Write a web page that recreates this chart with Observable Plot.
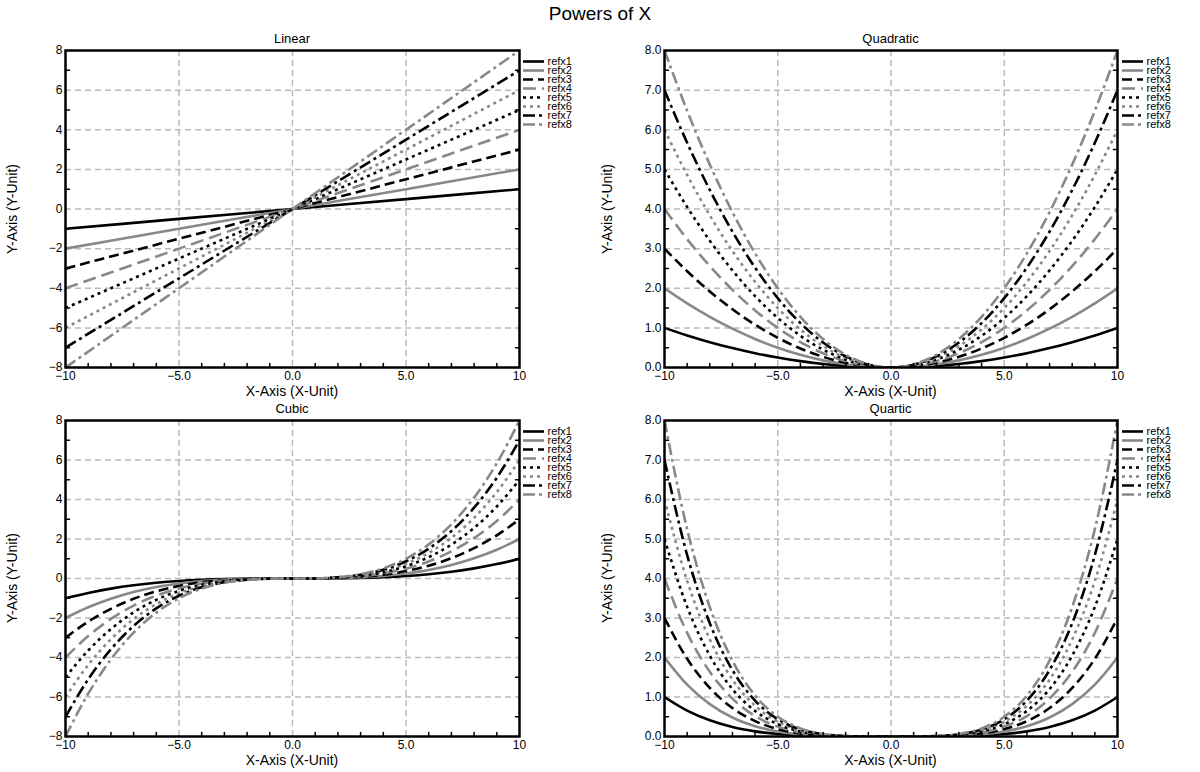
<!DOCTYPE html>
<html><head><meta charset="utf-8">
<script src="https://cdn.jsdelivr.net/npm/d3@7"></script>
<script src="https://cdn.jsdelivr.net/npm/@observablehq/plot@0.6"></script>
<style>
body{margin:0;background:#fff;font-family:"Liberation Sans",Arial,sans-serif;color:#000;}
#root{position:relative;width:1200px;height:772px;overflow:hidden;background:#fff;}
.abs{position:absolute;}
.title{position:absolute;left:0;width:1200px;text-align:center;top:3px;font-size:19px;line-height:22px;}
.lab{position:absolute;white-space:nowrap;line-height:15px;transform:translate(-50%,-50%);}
.ptitle{font-size:13px;}
.xlab{font-size:14px;}
.ylab{font-size:14px;transform:translate(-50%,-50%) rotate(-90deg);}
</style></head><body><div id="root"></div>
<script>
// ---- data ----
const seriesNames = ["refx1","refx2","refx3","refx4","refx5","refx6","refx7","refx8"];

const xLinear = [-10,-5,0,5,10];
const linear = [
  [-1,-0.5,0,0.5,1],
  [-2,-1,0,1,2],
  [-3,-1.5,0,1.5,3],
  [-4,-2,0,2,4],
  [-5,-2.5,0,2.5,5],
  [-6,-3,0,3,6],
  [-7,-3.5,0,3.5,7],
  [-8,-4,0,4,8]
];

const xPow = [-10,-9,-8,-7,-6,-5,-4,-3,-2,-1,0,1,2,3,4,5,6,7,8,9,10];
const quadratic = [
  [1,0.81,0.64,0.49,0.36,0.25,0.16,0.09,0.04,0.01,0,0.01,0.04,0.09,0.16,0.25,0.36,0.49,0.64,0.81,1],
  [2,1.62,1.28,0.98,0.72,0.5,0.32,0.18,0.08,0.02,0,0.02,0.08,0.18,0.32,0.5,0.72,0.98,1.28,1.62,2],
  [3,2.43,1.92,1.47,1.08,0.75,0.48,0.27,0.12,0.03,0,0.03,0.12,0.27,0.48,0.75,1.08,1.47,1.92,2.43,3],
  [4,3.24,2.56,1.96,1.44,1,0.64,0.36,0.16,0.04,0,0.04,0.16,0.36,0.64,1,1.44,1.96,2.56,3.24,4],
  [5,4.05,3.2,2.45,1.8,1.25,0.8,0.45,0.2,0.05,0,0.05,0.2,0.45,0.8,1.25,1.8,2.45,3.2,4.05,5],
  [6,4.86,3.84,2.94,2.16,1.5,0.96,0.54,0.24,0.06,0,0.06,0.24,0.54,0.96,1.5,2.16,2.94,3.84,4.86,6],
  [7,5.67,4.48,3.43,2.52,1.75,1.12,0.63,0.28,0.07,0,0.07,0.28,0.63,1.12,1.75,2.52,3.43,4.48,5.67,7],
  [8,6.48,5.12,3.92,2.88,2,1.28,0.72,0.32,0.08,0,0.08,0.32,0.72,1.28,2,2.88,3.92,5.12,6.48,8]
];
const cubic = [
  [-1,-0.729,-0.512,-0.343,-0.216,-0.125,-0.064,-0.027,-0.008,-0.001,0,0.001,0.008,0.027,0.064,0.125,0.216,0.343,0.512,0.729,1],
  [-2,-1.458,-1.024,-0.686,-0.432,-0.25,-0.128,-0.054,-0.016,-0.002,0,0.002,0.016,0.054,0.128,0.25,0.432,0.686,1.024,1.458,2],
  [-3,-2.187,-1.536,-1.029,-0.648,-0.375,-0.192,-0.081,-0.024,-0.003,0,0.003,0.024,0.081,0.192,0.375,0.648,1.029,1.536,2.187,3],
  [-4,-2.916,-2.048,-1.372,-0.864,-0.5,-0.256,-0.108,-0.032,-0.004,0,0.004,0.032,0.108,0.256,0.5,0.864,1.372,2.048,2.916,4],
  [-5,-3.645,-2.56,-1.715,-1.08,-0.625,-0.32,-0.135,-0.04,-0.005,0,0.005,0.04,0.135,0.32,0.625,1.08,1.715,2.56,3.645,5],
  [-6,-4.374,-3.072,-2.058,-1.296,-0.75,-0.384,-0.162,-0.048,-0.006,0,0.006,0.048,0.162,0.384,0.75,1.296,2.058,3.072,4.374,6],
  [-7,-5.103,-3.584,-2.401,-1.512,-0.875,-0.448,-0.189,-0.056,-0.007,0,0.007,0.056,0.189,0.448,0.875,1.512,2.401,3.584,5.103,7],
  [-8,-5.832,-4.096,-2.744,-1.728,-1,-0.512,-0.216,-0.064,-0.008,0,0.008,0.064,0.216,0.512,1,1.728,2.744,4.096,5.832,8]
];
const quartic = [
  [1,0.656,0.41,0.24,0.13,0.063,0.026,0.008,0.002,0,0,0,0.002,0.008,0.026,0.063,0.13,0.24,0.41,0.656,1],
  [2,1.312,0.819,0.48,0.259,0.125,0.051,0.016,0.003,0,0,0,0.003,0.016,0.051,0.125,0.259,0.48,0.819,1.312,2],
  [3,1.968,1.229,0.72,0.389,0.188,0.077,0.024,0.005,0,0,0,0.005,0.024,0.077,0.188,0.389,0.72,1.229,1.968,3],
  [4,2.624,1.638,0.96,0.518,0.25,0.102,0.032,0.006,0,0,0,0.006,0.032,0.102,0.25,0.518,0.96,1.638,2.624,4],
  [5,3.281,2.048,1.2,0.648,0.313,0.128,0.041,0.008,0.001,0,0.001,0.008,0.041,0.128,0.313,0.648,1.2,2.048,3.281,5],
  [6,3.937,2.458,1.441,0.778,0.375,0.154,0.049,0.01,0.001,0,0.001,0.01,0.049,0.154,0.375,0.778,1.441,2.458,3.937,6],
  [7,4.593,2.867,1.681,0.907,0.438,0.179,0.057,0.011,0.001,0,0.001,0.011,0.057,0.179,0.438,0.907,1.681,2.867,4.593,7],
  [8,5.249,3.277,1.921,1.037,0.5,0.205,0.065,0.013,0.001,0,0.001,0.013,0.065,0.205,0.5,1.037,1.921,3.277,5.249,8]
];

const xTicks = [-10,-5,0,5,10];
const xTickLabels = ["\u221210","\u22125.0","0.0","5.0","10"];
const xMinorTicks = [-9,-8,-7,-6,-4,-3,-2,-1,1,2,3,4,6,7,8,9];
const ySymTicks = [-8,-6,-4,-2,0,2,4,6,8];
const ySymLabels = ["\u22128","\u22126","\u22124","\u22122","0","2","4","6","8"];
const ySymMinor = [-7,-5,-3,-1,1,3,5,7];
const yPosTicks = [0,1,2,3,4,5,6,7,8];
const yPosLabels = ["0.0","1.0","2.0","3.0","4.0","5.0","6.0","7.0","8.0"];
const yPosMinor = [0.5,1.5,2.5,3.5,4.5,5.5,6.5,7.5];

const chartTitle = "Powers of X";
const xLabel = "X-Axis (X-Unit)";
const yLabel = "Y-Axis (Y-Unit)";

// ---- styles ----
const seriesStyles = [
  {stroke:"#000", dash:null},
  {stroke:"#888", dash:null},
  {stroke:"#000", dash:"10,5"},
  {stroke:"#888", dash:"13,6"},
  {stroke:"#000", dash:"3,4"},
  {stroke:"#888", dash:"3,4"},
  {stroke:"#000", dash:"12,4,3,4"},
  {stroke:"#888", dash:"12,4,3,4"}
];

const cols = [
  {left:0, width:600, ml:65, mr:81, legendLeft:521},
  {left:600, width:600, ml:64, mr:83, legendLeft:1120}
];
const rows = [
  {top:44, height:356, mt:6, mb:33, legendTop:48},
  {top:414, height:358, mt:6, mb:36, legendTop:418}
];

const panels = [
  {name:"Linear", xs:xLinear, data:linear, yt:ySymTicks, yl:ySymLabels, ym:ySymMinor, yd:[-8,8], c:0, r:0},
  {name:"Quadratic", xs:xPow, data:quadratic, yt:yPosTicks, yl:yPosLabels, ym:yPosMinor, yd:[0,8], c:1, r:0},
  {name:"Cubic", xs:xPow, data:cubic, yt:ySymTicks, yl:ySymLabels, ym:ySymMinor, yd:[-8,8], c:0, r:1},
  {name:"Quartic", xs:xPow, data:quartic, yt:yPosTicks, yl:yPosLabels, ym:yPosMinor, yd:[0,8], c:1, r:1}
];

const root = document.getElementById("root");
function addDiv(cls, text, x, y) {
  const d = document.createElement("div");
  d.className = cls; d.textContent = text;
  if (x != null) d.style.left = x + "px";
  if (y != null) d.style.top = y + "px";
  root.appendChild(d);
  return d;
}
addDiv("title", chartTitle);

const tickShape = {draw(ctx, l) { ctx.moveTo(0, 0); ctx.lineTo(0, -l); }};
const xFmt = new Map(xTicks.map((d, i) => [d, xTickLabels[i]]));
const font = '"Liberation Sans", Arial, sans-serif';

for (const p of panels) {
  const C = cols[p.c], R = rows[p.r];
  const yFmt = new Map(p.yt.map((d, i) => [d, p.yl[i]]));
  const xd = [xTicks[0], xTicks[xTicks.length - 1]];
  const xGrid = xTicks.filter(d => d > xd[0] && d < xd[1]);
  const yGrid = p.yt.filter(d => d > p.yd[0] && d < p.yd[1]);

  const lineMarks = p.data.map((vals, i) => Plot.line(
    p.xs.map((x, j) => ({x, y: vals[j]})),
    {x: "x", y: "y", curve: "monotone-x", stroke: seriesStyles[i].stroke,
     strokeWidth: 2.6, strokeDasharray: seriesStyles[i].dash, strokeLinecap: "butt",
     strokeLinejoin: "round", clip: true}
  ));

  const chart = Plot.plot({
    width: C.width, height: R.height,
    marginLeft: C.ml, marginRight: C.mr, marginTop: R.mt, marginBottom: R.mb,
    style: {fontFamily: font, fontSize: "12px", background: "transparent", color: "#000"},
    x: {domain: xd},
    y: {domain: p.yd},
    marks: [
      Plot.ruleX(xGrid, {x: d => d, stroke: "#bbb", strokeWidth: 1.5, strokeDasharray: "6,4"}),
      Plot.ruleY(yGrid, {y: d => d, stroke: "#bbb", strokeWidth: 1.5, strokeDasharray: "6,4"}),
      ...lineMarks,
      Plot.vector(xMinorTicks, {x: d => d, frameAnchor: "bottom", length: 4, rotate: 0, anchor: "start", shape: tickShape, stroke: "#000", strokeWidth: 1.5}),
      Plot.vector(p.ym, {y: d => d, frameAnchor: "left", length: 4, rotate: 90, anchor: "start", shape: tickShape, stroke: "#000", strokeWidth: 1.5}),
      Plot.vector(p.ym, {y: d => d, frameAnchor: "right", length: 4, rotate: -90, anchor: "start", shape: tickShape, stroke: "#000", strokeWidth: 1.5}),
      Plot.frame({stroke: "#000", strokeWidth: 2.5}),
      Plot.axisX(xTicks, {tickSize: 0, tickPadding: 4, tickFormat: d => xFmt.get(d), fontSize: 12, label: null}),
      Plot.axisY(p.yt, {tickSize: 0, tickPadding: 3, tickFormat: d => yFmt.get(d), fontSize: 12, label: null})
    ]
  });
  const wrap = document.createElement("div");
  wrap.className = "abs";
  wrap.style.left = C.left + "px"; wrap.style.top = R.top + "px";
  wrap.appendChild(chart);
  root.appendChild(wrap);

  const frameTop = R.top + R.mt, frameBottom = R.top + R.height - R.mb;
  const cx = C.left + C.ml + (C.width - C.ml - C.mr) / 2;
  addDiv("lab ptitle", p.name, cx, frameTop - 12);
  addDiv("lab xlab", xLabel, cx, frameBottom + 24);
  addDiv("lab ylab", yLabel, C.left + (p.c === 0 ? 12 : 7), (frameTop + frameBottom) / 2);

  // legend
  const legend = Plot.plot({
    width: 75, height: 92, margin: 0,
    style: {fontFamily: font, fontSize: "11px", background: "transparent", color: "#000", overflow: "visible"},
    x: {domain: [0, 1], range: [2, 23]},
    y: {domain: seriesNames, type: "point", range: [6, 82]},
    axis: null,
    marks: [
      ...seriesNames.map((n, i) => Plot.ruleY([n], {y: d => d, x1: 0, x2: 1, stroke: seriesStyles[i].stroke,
        strokeWidth: 2.6, strokeDasharray: seriesStyles[i].dash, strokeLinecap: "butt"})),
      Plot.text(seriesNames, {x: 1, y: d => d, text: d => d, dx: 3, textAnchor: "start", fontSize: 11, fill: "#000"})
    ]
  });
  const lw = document.createElement("div");
  lw.className = "abs";
  lw.style.left = C.legendLeft + "px"; lw.style.top = R.legendTop + "px";
  lw.appendChild(legend);
  root.appendChild(lw);
}
</script>
</body></html>
